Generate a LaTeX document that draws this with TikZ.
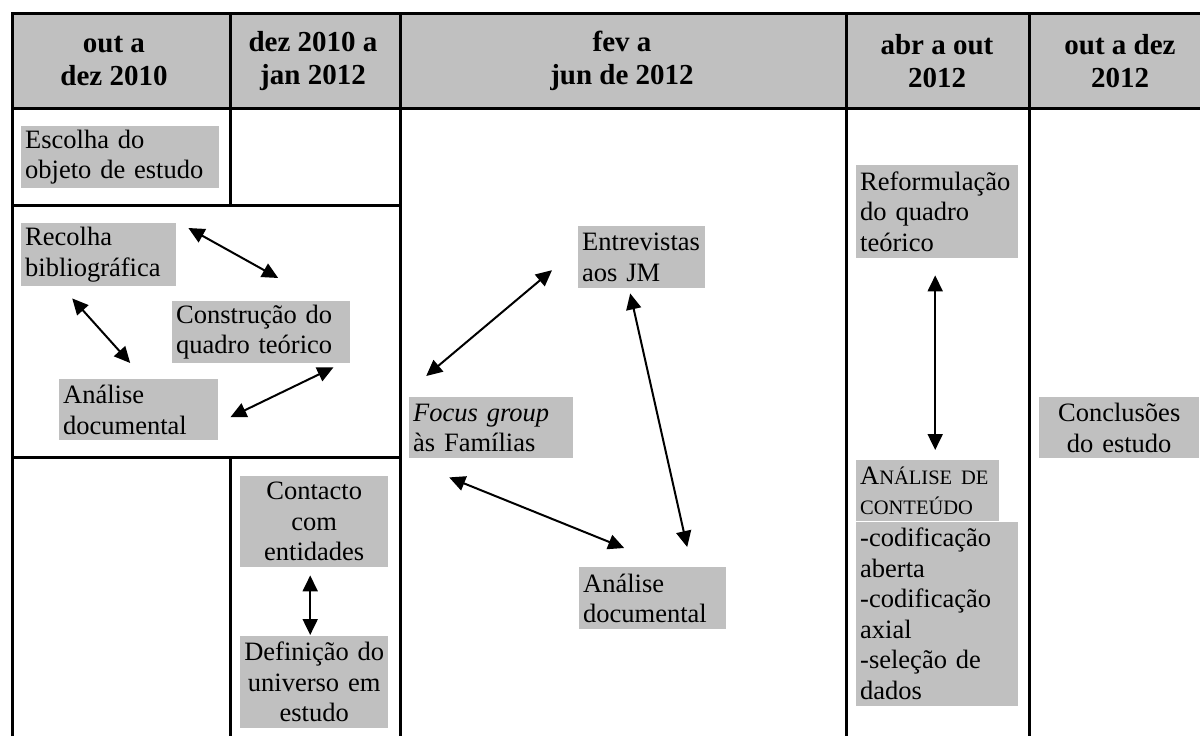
\documentclass[tikz,border=0pt]{standalone}
\usepackage{fontspec}
\setmainfont{Liberation Serif}
\definecolor{cellgray}{RGB}{192,192,192}
\usepackage{tikz}
\usetikzlibrary{arrows.meta, positioning}
\newcommand{\corpo}{\fontsize{26.5}{30.5}\selectfont}
\newcommand{\cabec}{\fontsize{29}{33}\selectfont\bfseries}
\newcommand{\versalete}[1]{{\fontsize{20.5}{30.5}\selectfont #1}}

\begin{document}
\begin{tikzpicture}[x=1pt, y=-1pt,
  bloco/.style={fill=cellgray, inner xsep=4pt, inner ysep=0pt, align=left, anchor=north west, font=\corpo},
  titulo/.style={align=center, font=\cabec},
  grade/.style={line width=3pt},
  liga/.style={line width=2pt, {Triangle[length=16pt,width=15pt]}-{Triangle[length=16pt,width=15pt]}}]
  \useasboundingbox (0,0) rectangle (1200,740);

  \fill[cellgray] (12,13) rectangle (1200,108);
  \draw[grade] (12,736) -- (12,13) -- (1200,13);
  \draw[grade] (12,108) -- (1200,108);
  \foreach \x in {400,846,1029}
    \draw[grade] (\x,13) -- (\x,736);
  \draw[grade] (230,13) -- (230,205);
  \draw[grade] (230,457) -- (230,736);
  \draw[grade] (12,205) -- (400,205);
  \draw[grade] (12,457) -- (400,457);

  \node[titulo] (per1) at (114,61) {out a\\dez 2010};
  \node[titulo] (per2) at (313,61) {dez 2010 a\\jan 2012};
  \node[titulo] (per3) at (622,61) {fev a\\jun de 2012};
  \node[titulo] (per4) at (937,61) {abr a out\\2012};
  \node[titulo] (per5) at (1120,61) {out a dez\\2012};

  \node[bloco, text width=190pt, minimum height=62pt] (escolha) at (21,126) {Escolha do\\objeto de estudo};
  \node[bloco, text width=147pt, minimum height=63pt] (recolha) at (21,223) {Recolha\\bibliográfica};
  \node[bloco, text width=170pt, minimum height=62pt] (construcao) at (172,301) {Construção do\\quadro teórico};
  \node[bloco, text width=151pt, minimum height=61pt] (analise1) at (59,379) {Análise\\documental};
  \node[bloco, text width=140pt, minimum height=91pt, align=center] (contacto) at (240,476) {Contacto\\com\\entidades};
  \node[bloco, text width=140pt, minimum height=92pt, align=center] (definicao) at (240,636) {Definição do\\universo em\\estudo};

  \node[bloco, text width=119pt, minimum height=62pt] (entrevistas) at (578,226) {Entrevistas\\aos JM};
  \node[bloco, text width=156pt, minimum height=61pt] (focus) at (409,397) {\textit{Focus group}\\às Famílias};
  \node[bloco, text width=139pt, minimum height=62pt] (analise2) at (579,567) {Análise\\documental};

  \node[bloco, text width=154pt, minimum height=93pt] (reformulacao) at (856,165) {Reformulação\\do quadro\\teórico};
  \node[bloco, text width=135pt, minimum height=61pt] (conteudo) at (856,460) {A\versalete{NÁLISE DE}\\\versalete{CONTEÚDO}};
  \node[bloco, text width=154pt, minimum height=184pt] (etapas) at (conteudo.south west) {-codificação\\aberta\\-codificação\\axial\\-seleção de\\dados};

  \node[bloco, text width=152pt, minimum height=61pt, align=center] (conclusoes) at (1039,397) {Conclusões\\do estudo};

  \draw[liga] ([shift={(12,5)}]recolha.north east) -- ([shift={(17,-23)}]construcao.north);
  \draw[liga] ([shift={(-26.5,12)}]recolha.south) -- ([shift={(-8.5,-16)}]analise1.north);
  \draw[liga] ([shift={(12,7.5)}]analise1.east) -- ([shift={(-17,4)}]construcao.south east);
  \draw[liga] ([shift={(-4,8)}]contacto.south) -- ([shift={(-4,-1)}]definicao.north);
  \draw[liga] ([shift={(-65,-21)}]focus.north) -- ([shift={(-26,13)}]entrevistas.west);
  \draw[liga] ([shift={(-11.5,5)}]entrevistas.south) -- ([shift={(34.5,-20)}]analise2.north);
  \draw[liga] ([shift={(-42,19)}]focus.south) -- ([shift={(-28.5,-19)}]analise2.north);
  \draw[liga] ([shift={(-2,17)}]reformulacao.south) -- ([shift={(7.5,-10)}]conteudo.north);
\end{tikzpicture}
\end{document}
